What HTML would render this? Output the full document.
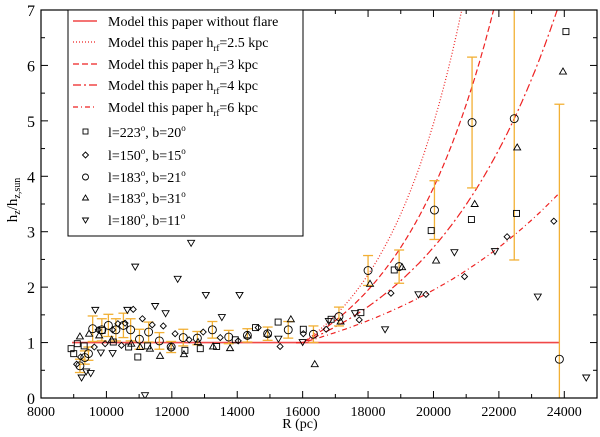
<!DOCTYPE html>
<html><head><meta charset="utf-8">
<style>
html,body{margin:0;padding:0;background:#fff;width:600px;height:437px;overflow:hidden;position:relative;}
svg{display:block;font-family:"Liberation Serif",serif;}
</style></head>
<body>
<svg id="chart" style="position:absolute;left:0;top:0;display:block" width="600" height="437" viewBox="0 0 600 437" xmlns="http://www.w3.org/2000/svg">
<rect x="0" y="0" width="600" height="437" fill="#fff"/>
<g id="plot"></g>
<g id="axes"></g>
</svg>
<script>
// ---- data ----
const xTicks=[8000,10000,12000,14000,16000,18000,20000,22000,24000];
const yTicks=[0,1,2,3,4,5,6,7];
const hrfValues=[2.5,3,4,6];
const flatLevel=[1];
const circR=[9190,9340,9450,9580,9860,10060,10290,10520,10740,11010,11290,11620,11980,12350,12780,13240,13740,14310,14930,15560,16330,17110,18000,18950,20030,21180,22470,23850];
const circV=[0.58,0.73,0.8,1.25,1.23,1.31,1.23,1.31,1.23,1.06,1.19,1.03,0.92,1.09,1.08,1.23,1.10,1.13,1.16,1.23,1.15,1.47,2.30,2.37,3.39,4.97,5.04,0.70];
const circE=[0.12,0.12,0.12,0.23,0.2,0.2,0.2,0.22,0.2,0.18,0.18,0.15,0.1,0.15,0.12,0.15,0.12,0.12,0.12,0.15,0.15,0.17,0.27,0.3,0.53,1.18,2.55,4.6];
const sqR=[8920,9000,9110,9320,9870,10210,10680,10960,11260,12400,12870,13370,13940,14560,15250,16020,16870,17780,18800,19930,21160,22540,24050];
const sqV=[0.89,0.80,0.98,0.94,1.22,1.01,0.92,0.74,0.94,0.86,0.89,0.93,1.05,1.27,1.37,1.24,1.42,1.54,2.31,3.02,3.22,3.33,6.61];
const diR=[9090,9210,9630,9750,9960,10190,10350,10570,10460,10820,11100,11400,11740,12100,12530,12960,13480,14030,14640,15310,16020,16720,17730,18700,19770,20950,22250,23680];
const diV=[0.61,0.74,0.92,1.23,0.98,1.23,1.34,1.35,0.95,1.60,1.43,1.32,1.30,1.16,1.05,1.19,1.09,1.03,1.27,0.93,1.16,1.24,1.41,1.89,1.87,2.19,2.91,3.19];
const upR=[9190,9470,9780,10160,10760,11030,11330,11640,11980,12370,12800,13260,13780,14320,14920,15640,16370,17160,18060,19040,20080,21260,22560,23960];
const upV=[1.11,1.16,1.13,1.05,0.98,0.92,0.89,0.76,0.93,0.79,1.01,0.93,0.90,1.13,1.16,1.42,0.61,1.38,2.06,2.36,2.48,3.50,4.52,5.89];
const dnR=[9240,9380,9520,9660,9830,10190,10640,10880,11180,11490,11810,12180,12590,13040,13530,14070,15260,16000,16800,17600,18520,19540,20640,21880,23190,24670];
const dnV=[0.37,0.48,0.45,1.59,0.82,0.81,1.59,2.37,0.05,1.66,1.53,2.15,2.80,1.86,1.46,1.86,1.07,1.01,1.39,1.53,1.24,1.87,2.63,2.65,1.83,0.37];

// ---- geometry ----
const L=41,R=597,T=10,B=398;
const xmin=8000,xmax=25000,ymin=0,ymax=7;
const sx=v=>L+(v-xmin)/(xmax-xmin)*(R-L);
const sy=v=>B-(v-ymin)/(ymax-ymin)*(B-T);
const NS="http://www.w3.org/2000/svg";
function mk(tag,attrs,parent){const e=document.createElementNS(NS,tag);for(const k in attrs)e.setAttribute(k,attrs[k]);parent.appendChild(e);return e;}
const plot=document.getElementById('plot');
const axes=document.getElementById('axes');
const clip=mk('clipPath',{id:'clip'},plot);
mk('rect',{x:L,y:T,width:R-L,height:B-T},clip);
const g=mk('g',{'clip-path':'url(#clip)'},plot);

// model lines
const RED="#ee2222";
let flat=mk('line',{x1:sx(8950),x2:sx(23850),y1:sy(flatLevel[0]),y2:sy(flatLevel[0]),stroke:"#f04848","stroke-width":1.6},g);


const dashes=["1,2","6,3","8,3,2,3","5,3,1,3"];
const curveNames=['model-hrf-2.5','model-hrf-3','model-hrf-4','model-hrf-6'];
hrfValues.forEach((h,i)=>{
  let d="";
  for(let r=15800;r<=23850;r+=50){
    const v=r<16000?1:Math.exp((r-16000)/(h*1000));
    if(v>ymax+0.05){ // stop at top of plot
      d+="L"+sx(r).toFixed(1)+","+sy(ymax+0.05).toFixed(1);
      break;
    }
    d+=(d?"L":"M")+sx(r).toFixed(1)+","+sy(v).toFixed(1);
  }
  const p=mk('path',{d:d,fill:"none",stroke:RED,"stroke-width":1.2,"stroke-dasharray":dashes[i]},g);
  
  
});

// error bars (clamped to axis range)
const ORA="#f2b035";
circR.forEach((r,i)=>{
  const lo=circV[i]-circE[i],hi=circV[i]+circE[i];
  const x=sx(r),y1=sy(Math.max(lo,ymin)),y2=sy(Math.min(hi,ymax));
  const e=mk('g',{stroke:ORA,"stroke-width":1.3},g);
  
  
  mk('line',{x1:x,x2:x,y1:y1,y2:y2},e);
  if(lo>=ymin) mk('line',{x1:x-5,x2:x+5,y1:y1,y2:y1},e);
  if(hi<=ymax) mk('line',{x1:x-5,x2:x+5,y1:y2,y2:y2},e);
});

// markers
function marker(type,x,y,parent){
  const st={fill:"none",stroke:"#000","stroke-width":0.9};
  let e;
  if(type==='sq')e=mk('rect',Object.assign({x:x-3,y:y-3,width:6,height:6},st),parent);
  else if(type==='ci')e=mk('circle',Object.assign({cx:x,cy:y,r:4},st),parent);
  else if(type==='di')e=mk('polygon',Object.assign({points:`${x},${y-3} ${x+3},${y} ${x},${y+3} ${x-3},${y}`},st),parent);
  else if(type==='up')e=mk('polygon',Object.assign({points:`${x},${y-3.5} ${x+3.5},${y+2.5} ${x-3.5},${y+2.5}`},st),parent);
  else e=mk('polygon',Object.assign({points:`${x},${y+3.5} ${x+3.5},${y-2.5} ${x-3.5},${y-2.5}`},st),parent);
  return e;
}
[['sq',sqR,sqV,'point-l223-b20'],['di',diR,diV,'point-l150-b15'],['ci',circR,circV,'point-l183-b21'],['up',upR,upV,'point-l183-b31'],['dn',dnR,dnV,'point-l180-b11']].forEach(([t,rs,vs,n])=>{
  rs.forEach((r,i)=>{
    const m=marker(t,sx(r),sy(vs[i]),g);
    
    
  });
});

// frame and ticks
mk('rect',{x:L,y:T,width:R-L,height:B-T,fill:"none",stroke:"#000","stroke-width":1.2},axes);
for(let v=8000;v<=25000;v+=1000){
  const x=sx(v),len=(v%2000===0)?7:4;
  mk('line',{x1:x,x2:x,y1:B,y2:B-len,stroke:"#000"},axes);
  mk('line',{x1:x,x2:x,y1:T,y2:T+len,stroke:"#000"},axes);
}
xTicks.forEach(v=>{
  const t=mk('text',{x:sx(v),y:B+18,"text-anchor":"middle","font-size":14},axes);
  t.textContent=v;
  
  
});
for(let v=0;v<=7;v+=0.5){
  const y=sy(v),len=(v%1===0)?7:4;
  mk('line',{x1:L,x2:L+len,y1:y,y2:y,stroke:"#000"},axes);
  mk('line',{x1:R,x2:R-len,y1:y,y2:y,stroke:"#000"},axes);
}
yTicks.forEach(v=>{
  const t=mk('text',{x:L-6,y:sy(v)+6,"text-anchor":"end","font-size":16},axes);
  t.textContent=v;
  
  
});
</script>
<svg style="position:absolute;left:0;top:0;display:block" width="600" height="437" xmlns="http://www.w3.org/2000/svg" font-family="Liberation Serif, serif">
<text x="300" y="428" text-anchor="middle" font-size="14">R (pc)</text>
<text transform="translate(17,200) rotate(-90)" text-anchor="middle" font-size="15">h<tspan font-size="10" dy="3">z</tspan><tspan dy="-3">/h</tspan><tspan font-size="10" dy="3">z,sun</tspan></text>
<g>
<rect x="68" y="10" width="235" height="226" fill="#fff" stroke="#000" stroke-width="1"/>
<line x1="73" x2="97" y1="21" y2="21" stroke="#ee2222" stroke-width="1.3"/>
<line x1="73" x2="97" y1="42" y2="42" stroke="#ee2222" stroke-width="1.2" stroke-dasharray="1,2"/>
<line x1="73" x2="97" y1="64" y2="64" stroke="#ee2222" stroke-width="1.2" stroke-dasharray="6,3"/>
<line x1="73" x2="97" y1="85" y2="85" stroke="#ee2222" stroke-width="1.2" stroke-dasharray="8,3,2,3"/>
<line x1="73" x2="97" y1="107" y2="107" stroke="#ee2222" stroke-width="1.2" stroke-dasharray="5,3,1,3"/>
<g font-size="14">
<text x="108" y="26">Model this paper without flare</text>
<text x="108" y="47">Model this paper h<tspan font-size="9" dy="4">rf</tspan><tspan dy="-4">=2.5 kpc</tspan></text>
<text x="108" y="69">Model this paper h<tspan font-size="9" dy="4">rf</tspan><tspan dy="-4">=3 kpc</tspan></text>
<text x="108" y="90">Model this paper h<tspan font-size="9" dy="4">rf</tspan><tspan dy="-4">=4 kpc</tspan></text>
<text x="108" y="112">Model this paper h<tspan font-size="9" dy="4">rf</tspan><tspan dy="-4">=6 kpc</tspan></text>
<text x="108" y="137">l=223<tspan font-size="9" dy="-6">o</tspan><tspan dy="6">, b=20</tspan><tspan font-size="9" dy="-6">o</tspan></text>
<text x="108" y="160">l=150<tspan font-size="9" dy="-6">o</tspan><tspan dy="6">, b=15</tspan><tspan font-size="9" dy="-6">o</tspan></text>
<text x="108" y="182">l=183<tspan font-size="9" dy="-6">o</tspan><tspan dy="6">, b=21</tspan><tspan font-size="9" dy="-6">o</tspan></text>
<text x="108" y="203">l=183<tspan font-size="9" dy="-6">o</tspan><tspan dy="6">, b=31</tspan><tspan font-size="9" dy="-6">o</tspan></text>
<text x="108" y="225">l=180<tspan font-size="9" dy="-6">o</tspan><tspan dy="6">, b=11</tspan><tspan font-size="9" dy="-6">o</tspan></text>
</g>
<g fill="none" stroke="#000" stroke-width="0.9">
<rect x="83" y="129" width="5" height="5"/>
<polygon points="85.5,152 88.5,155 85.5,158 82.5,155"/>
<circle cx="85.5" cy="177" r="3"/>
<polygon points="85.5,195 88.5,200 82.5,200"/>
<polygon points="85.5,223 88.5,218 82.5,218"/>
</g>
</g>
</svg>
</body></html>
